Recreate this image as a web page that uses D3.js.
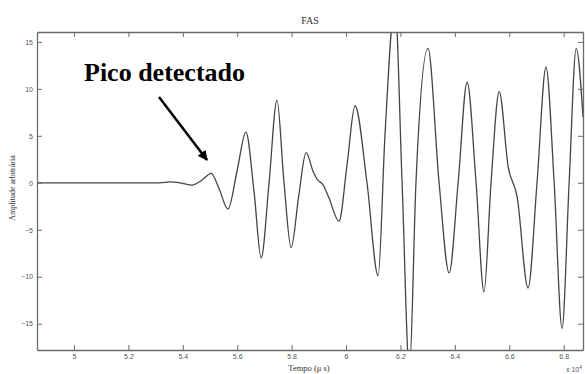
<!DOCTYPE html>
<html><head><meta charset="utf-8">
<script src="https://cdn.jsdelivr.net/npm/d3@7"></script>
<style>body{margin:0;background:#fff}svg{display:block}</style>
</head><body>
<svg id="c" width="585" height="374"></svg>
<script>
// time (x 10^4 μs) and amplitude of the FAS signal
const time = [4.864,5.316,5.353,5.390,5.434,5.471,5.504,5.533,5.566,5.599,5.632,5.662,5.688,5.717,5.746,5.772,5.798,5.827,5.853,5.879,5.893,5.915,5.937,5.974,6.004,6.033,6.077,6.118,6.143,6.180,6.206,6.233,6.257,6.301,6.342,6.379,6.412,6.445,6.478,6.507,6.533,6.563,6.596,6.629,6.669,6.702,6.735,6.765,6.794,6.820,6.846,6.871];
const amplitude = [0,0,0.1,0,-0.25,0.3,1.0,-0.6,-2.8,1.2,5.4,-1.0,-8.0,0,8.8,0,-6.9,-1.2,3.2,1.2,0.4,-0.2,-1.6,-4.1,2.0,8.2,0,-9.9,5,19,0,-20,0,14.3,0,-9.6,0,10.7,0,-11.6,0,9.7,1.7,-1.5,-11.2,0,12.3,0,-15.5,0,14.3,7];
const xTicks = [5,5.2,5.4,5.6,5.8,6,6.2,6.4,6.6,6.8];
const yTicks = [-15,-10,-5,0,5,10,15];
const title = "FAS";
const xLabel = "Tempo (μ s)";
const yLabel = "Amplitude arbitrária";
const annotation = "Pico detectado";

const svg = d3.select("#c");
const L=37, R=583, T=32, B=350;
const x = d3.scaleLinear().domain([4.864,6.871]).range([L,R]);
const y = d3.scaleLinear().domain([-17.8,16.05]).range([B,T]);
const axisCol = "#6a6a6a";

svg.append("defs").append("clipPath").attr("id","clip")
  .append("rect").attr("x",L).attr("y",T).attr("width",R-L).attr("height",B-T);

// signal
const pts = time.map((t,i)=>[t,amplitude[i]]);
svg.append("path").datum(pts)
  .attr("clip-path","url(#clip)")
  .attr("fill","none").attr("stroke","#444").attr("stroke-width",1.3)
  .attr("d", d3.line().x(d=>x(d[0])).y(d=>y(d[1])).curve(d3.curveMonotoneX));

// axes
function styleAxis(g){
  g.selectAll(".domain").attr("stroke",axisCol).attr("stroke-width",1.3);
  g.selectAll(".tick line").attr("stroke",axisCol).attr("stroke-width",1);
  g.selectAll(".tick text").attr("fill","#555").style("font-family","Liberation Sans, Arial, sans-serif").style("font-size","7px");
}
const gx = svg.append("g").attr("transform",`translate(0,${B})`)
  .call(d3.axisBottom(x).tickValues(xTicks).tickSizeInner(-5).tickSizeOuter(0).tickPadding(4).tickFormat(d3.format("")));
styleAxis(gx);
const gxt = svg.append("g").attr("transform",`translate(0,${T})`)
  .call(d3.axisTop(x).tickValues(xTicks).tickSizeInner(-5).tickSizeOuter(0).tickFormat(""));
styleAxis(gxt);
const gy = svg.append("g").attr("transform",`translate(${L},0)`)
  .call(d3.axisLeft(y).tickValues(yTicks).tickSizeInner(-5).tickSizeOuter(0).tickPadding(4));
styleAxis(gy);
const gyr = svg.append("g").attr("transform",`translate(${R},0)`)
  .call(d3.axisRight(y).tickValues(yTicks).tickSizeInner(-5).tickSizeOuter(0).tickFormat(""));
styleAxis(gyr);

// texts
svg.append("text").attr("x",310).attr("y",24).attr("text-anchor","middle")
  .style("font-family","Liberation Serif, Times New Roman, serif").style("font-size","10px").attr("fill","#333").text(title);
svg.append("text").attr("x",309).attr("y",371).attr("text-anchor","middle")
  .style("font-family","Liberation Serif, Times New Roman, serif").style("font-size","8.5px").attr("fill","#333").text(xLabel);
svg.append("text").attr("transform","translate(15,188) rotate(-90)").attr("text-anchor","middle")
  .style("font-family","Liberation Serif, Times New Roman, serif").style("font-size","8px").attr("fill","#333").text(yLabel);
const ex = svg.append("text").attr("x",566).attr("y",372)
  .style("font-family","Liberation Sans, Arial, sans-serif").style("font-size","7px").attr("fill","#555");
ex.append("tspan").text("x 10");
ex.append("tspan").attr("dy",-3).style("font-size","5px").text("4");

// annotation
svg.append("text").attr("x",84).attr("y",81)
  .style("font-family","Liberation Serif, Times New Roman, serif").style("font-weight","bold").style("font-size","26px").attr("fill","#000").text(annotation);
svg.select("defs").append("marker").attr("id","ah").attr("viewBox","0 0 10 10").attr("refX",9).attr("refY",5)
  .attr("markerWidth",4).attr("markerHeight",4).attr("orient","auto")
  .append("path").attr("d","M0,0L10,5L0,10z").attr("fill","#000");
svg.append("line").attr("x1",159).attr("y1",97).attr("x2",207).attr("y2",160)
  .attr("stroke","#000").attr("stroke-width",2.5).attr("marker-end","url(#ah)");
</script>
</body></html>
